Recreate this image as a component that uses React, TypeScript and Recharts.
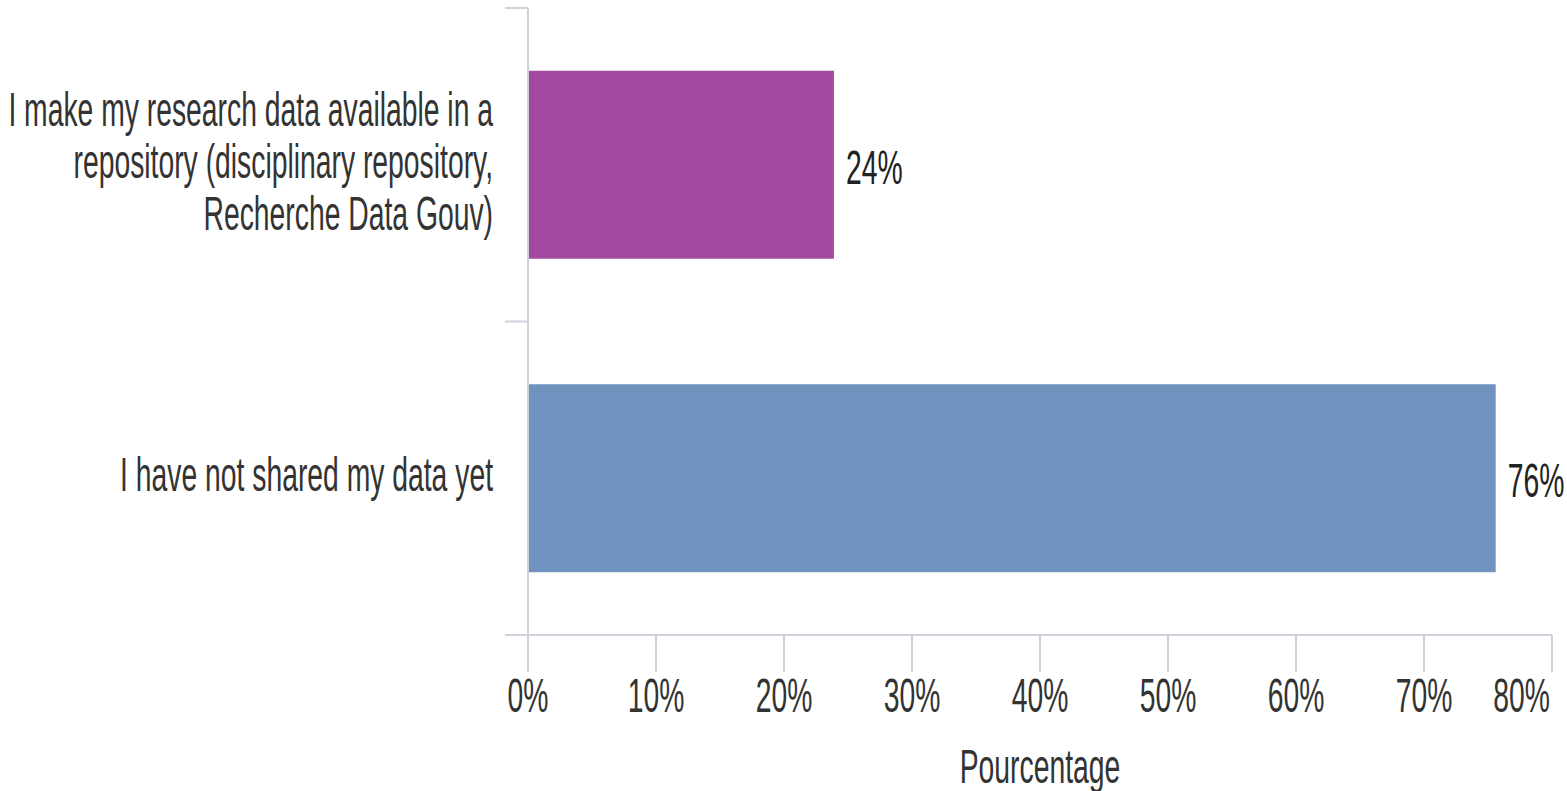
import React from 'react';
import { BarChart, Bar, XAxis, YAxis, Cell, LabelList, Label } from 'recharts';

// categories (line breaks as in the original wrapped labels)
const categories = [
  'I make my research data available in a\nrepository (disciplinary repository,\nRecherche Data Gouv)',
  'I have not shared my data yet',
];
const percentages = [23.9, 75.6];
const barColors = ['#a24a9f', '#7092be'];
const xTicks = [0, 10, 20, 30, 40, 50, 60, 70, 80];
const axisTitle = 'Pourcentage';

const data = categories.map((name, i) => ({ name, value: percentages[i] }));

const FONT = '"Liberation Sans", Arial, sans-serif';
const SQUEEZE = 0.59; // the source uses a condensed face
const AXIS = '#cdd1da';
const Y_LABEL_GAP = 35;
const Y_TICK_LEN = 23;

const Narrow = ({ x, y, anchor, fill = '#333', children }: any) => (
  <text
    transform={`translate(${x},${y}) scale(${SQUEEZE},1)`}
    textAnchor={anchor}
    fontFamily={FONT}
    fontSize={48}
    fill={fill}
  >
    {children}
  </text>
);

const XTick = ({ x, y, payload }: any) => {
  const last = payload.value === xTicks[xTicks.length - 1];
  return (
    <Narrow x={last ? x - 2 : x} y={y + 40} anchor={last ? 'end' : 'middle'}>
      {`${payload.value}%`}
    </Narrow>
  );
};

// category labels + tick marks on the band boundaries (as in the source)
const YTick = ({ x, y, payload, height, visibleTicksCount, index }: any) => {
  const lines = String(payload.value).split('\n');
  const half = payload.offset ?? height / visibleTicksCount / 2;
  const axisX = x + Y_LABEL_GAP;
  const edges = index === visibleTicksCount - 1 ? [y - half, y + half] : [y - half];
  return (
    <g>
      {edges.map((ey, i) => (
        <line key={`e${i}`} x1={axisX - Y_TICK_LEN} x2={axisX} y1={ey} y2={ey} stroke={AXIS} strokeWidth={2} />
      ))}
      {lines.map((line, i) => (
        <Narrow key={i} x={x} y={y + (i - (lines.length - 1) / 2) * 52 + 13} anchor="end">
          {line}
        </Narrow>
      ))}
    </g>
  );
};

const ValueLabel = (p: any) => (
  <Narrow x={p.x + p.width + 12} y={p.y + p.height / 2 + 19} anchor="start" fill="#222">
    {`${Math.round(p.value)}%`}
  </Narrow>
);

const AxisTitle = ({ viewBox }: any) => (
  <Narrow x={viewBox.x + viewBox.width / 2} y={viewBox.y + 148} anchor="middle">
    {axisTitle}
  </Narrow>
);

export default function App() {
  return (
    <div style={{ position: 'absolute', left: 0, top: 0, background: '#fff' }}>
      <BarChart
        width={1567}
        height={791}
        data={data}
        layout="vertical"
        margin={{ top: 8, right: 15, bottom: 0, left: 0 }}
        barCategoryGap="20%"
      >
        <YAxis
          type="category"
          dataKey="name"
          width={528}
          axisLine={{ stroke: AXIS, strokeWidth: 2 }}
          tickLine={false}
          tickSize={0}
          tickMargin={Y_LABEL_GAP}
          tick={<YTick />}
        />
        <XAxis
          type="number"
          domain={[0, 80]}
          ticks={xTicks}
          interval={0}
          height={156}
          tickSize={37}
          tickMargin={0}
          axisLine={{ stroke: AXIS, strokeWidth: 2 }}
          tickLine={{ stroke: AXIS, strokeWidth: 2 }}
          tick={<XTick />}
        >
          <Label content={<AxisTitle />} />
        </XAxis>
        <Bar dataKey="value" isAnimationActive={false}>
          {data.map((_, i) => (
            <Cell key={i} fill={barColors[i]} />
          ))}
          <LabelList dataKey="value" content={<ValueLabel />} />
        </Bar>
      </BarChart>
    </div>
  );
}
